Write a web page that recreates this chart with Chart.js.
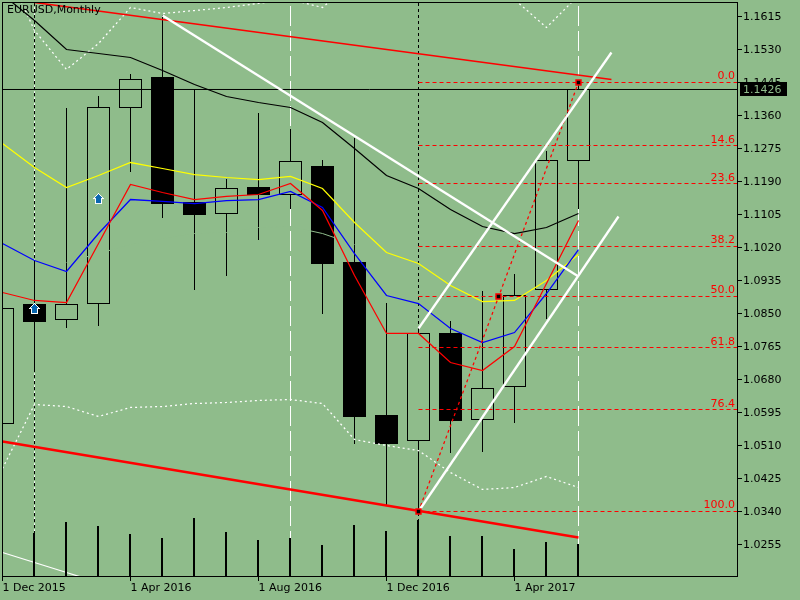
<!DOCTYPE html>
<html>
<head>
<meta charset="utf-8">
<style>
html,body{margin:0;padding:0;background:#8FBC8B;overflow:hidden}
canvas{display:block;background:#8FBC8B}
</style>
<script src="https://cdn.jsdelivr.net/npm/chart.js@4"></script>
</head>
<body>
<canvas id="c" width="800" height="600"></canvas>
<script>
// ---- data ----
const months = ['1 Dec 2015','1 Jan 2016','1 Feb 2016','1 Mar 2016','1 Apr 2016','1 May 2016','1 Jun 2016','1 Jul 2016','1 Aug 2016','1 Sep 2016','1 Oct 2016','1 Nov 2016','1 Dec 2016','1 Jan 2017','1 Feb 2017','1 Mar 2017','1 Apr 2017','1 May 2017','1 Jun 2017'];
const labelledMonths = [0,4,8,12,16];
const priceTicks = [1.1615,1.1530,1.1445,1.1360,1.1275,1.1190,1.1105,1.1020,1.0935,1.0850,1.0765,1.0680,1.0595,1.0510,1.0425,1.0340,1.0255];

const open  = [1.05667,1.08732,1.08345,1.08757,1.13806,1.14579,1.11359,1.11076,1.11745,1.11565,1.12286,1.09814,1.05873,1.05229,1.07985,1.05770,1.06620,1.09118,1.12441];
const high  = [1.08835,1.09865,1.13780,1.14089,1.14656,1.16176,1.14270,1.11951,1.13651,1.13239,1.12441,1.13007,1.08757,1.08113,1.08294,1.09067,1.09504,1.12673,1.14450];
const low   = [1.05229,1.07032,1.08139,1.08191,1.12157,1.10973,1.09118,1.09479,1.10406,1.11204,1.08500,1.05151,1.03554,1.03400,1.04919,1.04945,1.05692,1.08371,1.11204];
const close = [1.08629,1.08294,1.08732,1.13806,1.14527,1.11333,1.11050,1.11720,1.11565,1.12415,1.09788,1.05847,1.05151,1.07985,1.05744,1.06568,1.08964,1.12441,1.14270];
const volume = [null,86000,108000,100000,84000,76000,116000,88000,72000,76000,62000,102000,90000,112000,80000,80000,54000,68000,64000];

const maBlack  = [1.16717,1.16047,1.15300,1.15197,1.15094,1.14759,1.14398,1.14089,1.13935,1.13806,1.13420,1.12750,1.12054,1.11720,1.11179,1.10741,1.10560,1.10715,1.11076];
const maYellow = [1.12879,1.12260,1.11745,1.12054,1.12389,1.12235,1.12080,1.12003,1.11951,1.12029,1.11720,1.10844,1.10071,1.09788,1.09221,1.08809,1.08835,1.09350,1.10020];
const maBlue   = [1.10303,1.09865,1.09582,1.10560,1.11436,1.11385,1.11333,1.11410,1.11436,1.11642,1.11230,1.10045,1.08964,1.08757,1.08113,1.07753,1.08010,1.09015,1.10148];
const maRed    = [1.09041,1.08835,1.08783,1.10303,1.11823,1.11617,1.11436,1.11514,1.11565,1.11848,1.11153,1.09479,1.07985,1.07985,1.07238,1.07032,1.07650,1.09273,1.10895];
const bandUpper = [1.17592,1.15789,1.14785,1.15454,1.16382,1.16227,1.16304,1.16382,1.16485,1.16588,1.16382,1.17077,1.17592,1.17592,1.17464,1.17206,1.16588,1.15867,1.16691];
const bandLower = [1.04507,1.06156,1.06104,1.05847,1.06079,1.06104,1.06182,1.06208,1.06259,1.06285,1.06182,1.05254,1.05100,1.04971,1.04404,1.03967,1.04018,1.04301,1.04018];
const thinWhite = [1.02344,1.02086,1.01829,1.01571];
const paleLine  = [null,null,1.09814,1.10045,1.10277,1.10432,1.10560,1.10586,1.10715,1.10741,1.10560,1.10277];

const lastPrice = 1.1427;
const lastPriceText = '1.1426';
const fibLevels = ['0.0','14.6','23.6','38.2','50.0','61.8','76.4','100.0'];
const fibPrices = [1.14450,1.12827,1.11848,1.10226,1.08938,1.07624,1.06027,1.03400];

const supportLine  = [[0,1.05203],[18,1.02730]];
const resistLine   = [[1,1.16510],[19.03,1.14527]];
const whiteDown    = [[5,1.16176],[18,1.09453]];
const channelUp    = [[13,1.08113],[19.03,1.15223]];
const channelLow   = [[13,1.03400],[19.25,1.10998]];
const fibTrend     = [[13,1.03400],[18,1.14450]];
const fibMarkers   = [[13,1.03400],[15.5,1.08938],[18,1.14450]];
const arrowPoints  = [[1,1.08629],[3,1.11462]];
const whiteMarks   = [9,18];
const blackMarks   = [1,13];

// ---- scales ----
const unit = 0.0085/33;
const yMax = 1.1615 + 14.5*unit, yMin = 1.1615 - 559.5*unit;
const xMin = -0.5/32, xMax = 734.5/32;
const halfRow = unit/2;

const BG = '#8FBC8B';
const at = arr => arr.map((v,i)=>({x:i,y:v}));
const pts = arr => arr.map(p=>({x:p[0],y:p[1]}));

// arrow picture used as a point style
function arrowImage(){
  const c = document.createElement('canvas'); c.width=13; c.height=11;
  const g = c.getContext('2d');
  const row = (y,x0,x1,col)=>{g.fillStyle=col; g.fillRect(x0,y,x1-x0+1,1);};
  for(let j=0;j<6;j++){ row(j,6-j,6+j,'#fff'); if(j>0 && j<5) row(j,7-j,5+j,'#0A66B0'); }
  row(5,1,11,'#fff'); row(5,4,8,'#0A66B0');
  for(let j=6;j<11;j++){ row(j,3,9,'#fff'); if(j<10) row(j,4,8,'#0A66B0'); }
  return c;
}

function lineDs(data,color,width,dash,extra){
  return Object.assign({type:'line',data,borderColor:color,borderWidth:width,borderDash:dash||[],
    pointRadius:0,tension:0,fill:false,xAxisID:'x',yAxisID:'y',spanGaps:true},extra||{});
}
function barDs(data,thick,bg,border,extra){
  return Object.assign({type:'bar',data,barThickness:thick,backgroundColor:bg,borderColor:'#000',borderWidth:border,
    borderSkipped:false,grouped:false,inflateAmount:0,xAxisID:'x',yAxisID:'y'},extra||{});
}

const upWicks = high.map((h,i)=>({x:i,y:[Math.max(open[i],close[i]),h+halfRow]}));
const loWicks = low.map((l,i)=>({x:i,y:[l-halfRow,Math.min(open[i],close[i])]}));
const bodies  = open.map((o,i)=>({x:i,y:[Math.min(o,close[i])-halfRow,Math.max(o,close[i])+halfRow]}));
const bodyFill = open.map((o,i)=> close[i]<o ? '#000' : BG);

const datasets = [
  ...whiteMarks.map(i=>lineDs(pts([[i,yMin],[i,yMax]]),'#fff',1,[20,5])),
  lineDs(pts([[1,yMin+0.0105],[1,yMax]]),'#fff',1,[3,3],{borderDashOffset:3}),
  ...blackMarks.map(i=>lineDs(pts([[i,yMin],[i,yMax]]),'#000',1,[3,3])),
  barDs(upWicks,1,'#000',0),
  barDs(loWicks,1,'#000',0),
  barDs(bodies,23,bodyFill,1),
  lineDs(at(paleLine),BG,1),
  lineDs(at(thinWhite),'#fff',1.25),
  lineDs(at(bandUpper),'#fff',1.25,[2,3]),
  lineDs(at(bandLower),'#fff',1.25,[2,3]),
  lineDs(at(maBlack),'#000',1.25),
  lineDs(at(maYellow),'#FFFF00',1.25),
  lineDs(at(maBlue),'#0000FF',1.25),
  lineDs(at(maRed),'#FF0000',1.25),
  lineDs(pts([[xMin,lastPrice],[xMax,lastPrice]]),'#000',1),
  ...fibPrices.map(p=>lineDs(pts([[13,p],[xMax,p]]),'#FF0000',1,[4,3])),
  lineDs(pts(fibTrend),'#FF0000',1.25,[3,3]),
  lineDs(pts(resistLine),'#FF0000',1.6),
  lineDs(pts(supportLine),'#FF0000',2.4),
  lineDs(pts(whiteDown),'#fff',2.3),
  lineDs(pts(channelUp),'#fff',2.3),
  lineDs(pts(channelLow),'#fff',2.3),
  barDs(at(volume),2,'#000',0,{xAxisID:'xVol',yAxisID:'yVol'}),
  lineDs(pts(fibMarkers),'#FF0000',0,[],{showLine:false,pointStyle:'rect',pointRadius:3.5,pointBackgroundColor:'#000',pointBorderColor:'#FF0000',pointBorderWidth:1.5}),
  lineDs(pts(arrowPoints),'#000',0,[],{showLine:false,pointStyle:arrowImage(),pointRadius:6}),
];
datasets.forEach((d,i)=>{d.order = datasets.length-i;});

const noPad = s => {s.paddingLeft=s.paddingRight=s.paddingTop=s.paddingBottom=0;};
const FONT = '"DejaVu Sans"';

const overlay = {
  id:'overlay',
  afterDraw(chart){
    const {ctx,scales:{y}} = chart;
    ctx.save();
    ctx.strokeStyle='#000'; ctx.lineWidth=1;
    ctx.strokeRect(2.5,2.5,735,574);
    ctx.font='11px '+FONT; ctx.textBaseline='top'; ctx.textAlign='left';
    ctx.fillStyle='#000';
    ctx.fillText('EURUSD,Monthly',7,5);
    ctx.fillStyle='#FF0000'; ctx.textAlign='right'; ctx.textBaseline='alphabetic';
    fibLevels.forEach((t,i)=>ctx.fillText(t,735,Math.round(y.getPixelForValue(fibPrices[i]))-3));
    const py = y.getPixelForValue(lastPrice);
    ctx.fillStyle='#000'; ctx.fillRect(740,Math.floor(py)-7,47,14);
    ctx.fillStyle=BG; ctx.textAlign='left'; ctx.textBaseline='middle';
    ctx.fillText(lastPriceText,743,Math.floor(py)+1.5);
    ctx.restore();
  }
};

new Chart(document.getElementById('c'),{
  type:'bar',
  data:{datasets},
  plugins:[overlay],
  options:{
    responsive:false,devicePixelRatio:1,animation:false,
    layout:{autoPadding:false,padding:{left:2,top:2,right:0,bottom:0}},
    plugins:{legend:{display:false},tooltip:{enabled:false},title:{display:false}},
    events:[],
    scales:{
      x:{type:'linear',position:'bottom',offset:false,min:xMin,max:xMax,
        grid:{offset:false,drawOnChartArea:false,drawTicks:true,tickLength:5,color:'#000'},
        border:{display:false},
        afterBuildTicks:s=>{s.ticks=labelledMonths.map(v=>({value:v}));},
        afterFit:s=>{s.height=24;noPad(s);},
        ticks:{autoSkip:false,maxRotation:0,minRotation:0,align:'start',padding:1,color:'#000',font:{family:FONT,size:11},
          callback:v=>months[v]}
      },
      y:{type:'linear',position:'right',min:yMin,max:yMax,
        grid:{drawOnChartArea:false,drawTicks:true,tickLength:5,color:'#000'},
        border:{display:false},
        afterBuildTicks:s=>{s.ticks=priceTicks.map(v=>({value:v}));},
        afterFit:s=>{s.width=63;noPad(s);},
        ticks:{autoSkip:false,padding:1,labelOffset:1,color:'#000',font:{family:FONT,size:11},
          callback:v=>v.toFixed(4)}
      },
      xVol:{type:'linear',display:false,offset:false,min:xMin+1/64,max:xMax+1/64,grid:{offset:false}},
      yVol:{type:'linear',display:false,min:0,max:1148000}
    }
  }
});
</script>
</body>
</html>
